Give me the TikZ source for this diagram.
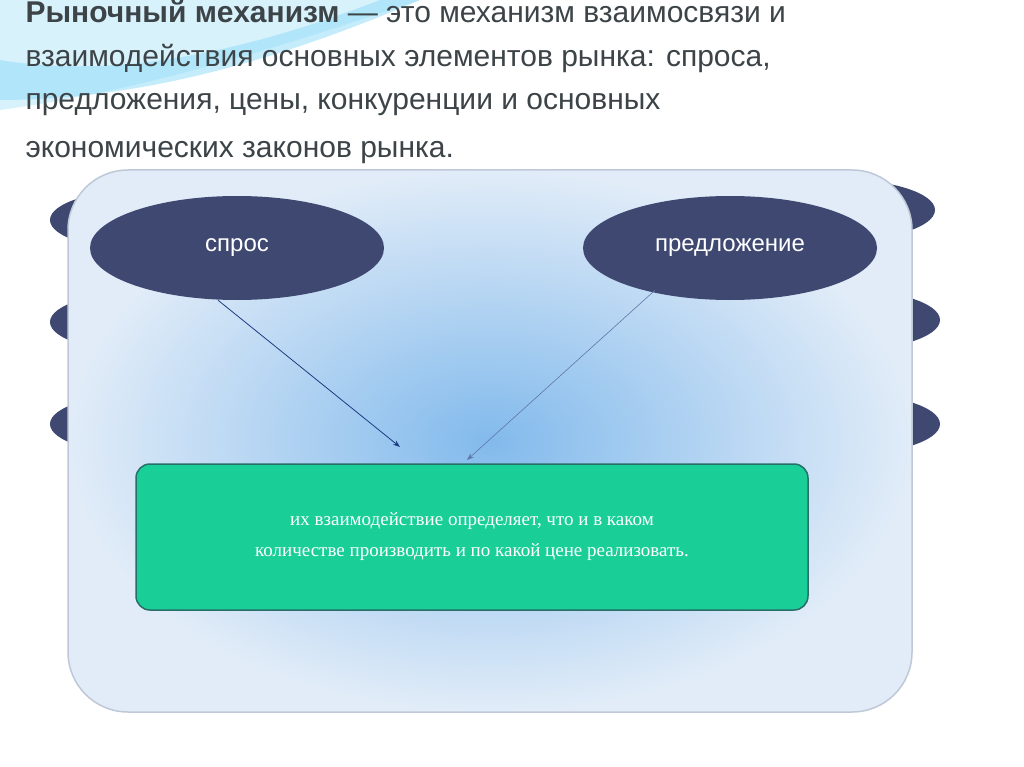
\documentclass[tikz,border=0pt]{standalone}
\usepackage{fontspec}
\setmainfont{Liberation Sans}
\newfontfamily\serifcyr{Liberation Serif}
\usetikzlibrary{shapes.geometric,arrows.meta,calc}
\definecolor{ovalc}{RGB}{62,72,112}
\definecolor{titlec}{RGB}{60,68,72}
\definecolor{greenc}{RGB}{26,206,152}
\definecolor{greenb}{RGB}{40,110,105}
\definecolor{arrc}{RGB}{30,60,130}
\definecolor{panelb}{RGB}{190,200,215}
\definecolor{panelin}{RGB}{130,186,236}
\definecolor{panelout}{RGB}{225,236,248}
\tikzset{
 oval/.style={ellipse,fill=ovalc,draw=none,minimum width=294pt,minimum height=104pt,text=white,font=\fontsize{24}{28}\selectfont},
 backoval/.style={ellipse,fill=ovalc,draw=none,minimum width=200pt,minimum height=62pt},
 conn/.style={draw=arrc,line width=0.8pt,-{Stealth[length=7pt,width=5pt]}},
 titletext/.style={anchor=west,text=titlec,font=\fontsize{30}{34}\selectfont}
}
\begin{document}
\begin{tikzpicture}[x=1pt,y=-1pt]
\useasboundingbox (0,0) rectangle (1024,767);
\fill[white] (0,0) rectangle (1024,767);
% decorative wave
\fill[cyan!25,opacity=0.6] (0,0) -- (420,0) .. controls (300,40) and (150,90) .. (0,110) -- cycle;
\fill[cyan!45,opacity=0.5] (0,60) .. controls (120,80) and (250,50) .. (380,0) -- (420,0) .. controls (280,60) and (140,100) .. (0,100) -- cycle;
% title
\node[titletext] (t1) at (22,11) {\textbf{Рыночный механизм} — это механизм взаимосвязи и};
\node[titletext] (t2) at (22,58) {взаимодействия основных элементов рынка: спроса,};
\node[titletext] (t3) at (22,105) {предложения, цены, конкуренции и основных};
\node[titletext] (t4) at (22,153) {экономических законов рынка.};
% back ovals
\node[backoval] (bl1) at (150,220) {};
\node[backoval] (bl2) at (150,322) {};
\node[backoval] (bl3) at (150,424) {};
\node[backoval] (br1) at (835,210) {};
\node[backoval] (br2) at (840,320) {};
\node[backoval] (br3) at (840,424) {};
% main panel
\shade[inner color=panelin,outer color=panelout,rounded corners=60pt] (68,170) rectangle (912,712);
\draw[panelb,line width=1.5pt,rounded corners=60pt] (68,170) rectangle (912,712);
% ovals
\node[oval] (spros) at (237,248) {спрос};
\node[oval] (pred) at (730,248) {предложение};
% green box
\node[draw=greenb,fill=greenc,line width=1.5pt,rounded corners=14pt,minimum width=672pt,minimum height=146pt,text=white,align=center,font=\serifcyr\fontsize{19}{31}\selectfont] (box) at (472,537) {их взаимодействие определяет, что и в каком\\количестве производить и по какой цене реализовать.};
\coordinate (a1) at (400,447);
\coordinate (a2) at (467,460);
\draw[conn] ($(spros.south)+(-19,0)$) -- (a1);
\draw[conn,draw=arrc!70,line width=0.6pt] ($(pred.south)+(-75,-10)$) -- (a2);
\end{tikzpicture}
\end{document}
